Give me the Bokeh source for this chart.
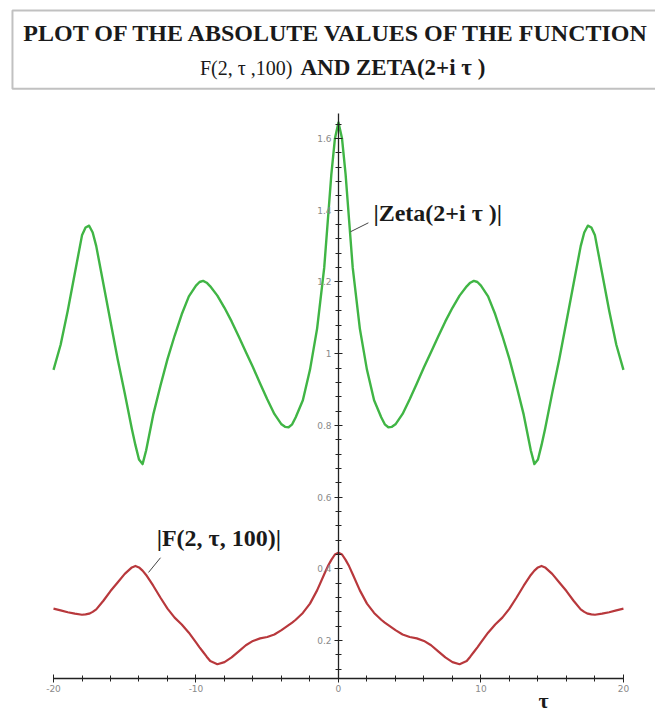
from bokeh.plotting import figure
from bokeh.models import LinearAxis, FixedTicker, Label, BoxAnnotation, Range1d, ColumnDataSource
from bokeh.embed import file_html
from bokeh.resources import INLINE

# ---------------- data ----------------
tau = [-20, -19.5, -19, -18.5, -18, -17.75, -17.5, -17.25, -17, -16.5, -16, -15.5, -15,
       -14.5, -14.25, -14, -13.75, -13.5, -13, -12.5, -12, -11.5, -11, -10.5, -10,
       -9.75, -9.5, -9.25, -9, -8.5, -8, -7.5, -7, -6.5, -6, -5.5, -5, -4.5, -4,
       -3.75, -3.5, -3.25, -3, -2.5, -2, -1.5, -1, -0.75, -0.5, -0.25, 0,
       0.25, 0.5, 0.75, 1, 1.5, 2, 2.5, 3, 3.25, 3.5, 3.75, 4, 4.5, 5, 5.5, 6, 6.5,
       7, 7.5, 8, 8.5, 9, 9.25, 9.5, 9.75, 10, 10.5, 11, 11.5, 12, 12.5, 13, 13.5,
       13.75, 14, 14.25, 14.5, 15, 15.5, 16, 16.5, 17, 17.25, 17.5, 17.75, 18, 18.5,
       19, 19.5, 20]

zeta_abs = [0.955, 1.025, 1.12, 1.225, 1.33, 1.352, 1.357, 1.338, 1.30, 1.195, 1.09,
            0.985, 0.89, 0.79, 0.745, 0.705, 0.692, 0.73, 0.83, 0.91, 0.985, 1.05,
            1.11, 1.16, 1.19, 1.200, 1.203, 1.198, 1.188, 1.162, 1.128, 1.09, 1.048,
            1.005, 0.962, 0.917, 0.873, 0.832, 0.803, 0.796, 0.795, 0.803, 0.823, 0.87,
            0.955, 1.07, 1.24, 1.37, 1.50, 1.60, 1.645,
            1.60, 1.50, 1.37, 1.24, 1.07, 0.955, 0.87, 0.823, 0.803, 0.795, 0.796,
            0.803, 0.832, 0.873, 0.917, 0.962, 1.005, 1.048, 1.09, 1.128, 1.162, 1.188,
            1.198, 1.203, 1.200, 1.19, 1.16, 1.11, 1.05, 0.985, 0.91, 0.83, 0.73, 0.692,
            0.705, 0.745, 0.79, 0.89, 0.985, 1.09, 1.195, 1.30, 1.338, 1.357, 1.352,
            1.33, 1.225, 1.12, 1.025, 0.955]

f_abs = [0.289, 0.284, 0.279, 0.275, 0.272, 0.273, 0.275, 0.280, 0.287, 0.311, 0.338,
         0.362, 0.386, 0.404, 0.408, 0.404, 0.395, 0.383, 0.353, 0.320, 0.289, 0.264,
         0.245, 0.222, 0.195, 0.181, 0.168, 0.155, 0.143, 0.134, 0.140, 0.153, 0.170,
         0.187, 0.199, 0.206, 0.210, 0.217, 0.229, 0.236, 0.243, 0.250, 0.258, 0.277,
         0.303, 0.340, 0.385, 0.407, 0.425, 0.440, 0.445,
         0.440, 0.425, 0.407, 0.385, 0.340, 0.303, 0.277, 0.258, 0.250, 0.243, 0.236,
         0.229, 0.217, 0.210, 0.206, 0.199, 0.187, 0.170, 0.153, 0.140, 0.134, 0.143,
         0.155, 0.168, 0.181, 0.195, 0.222, 0.245, 0.264, 0.289, 0.320, 0.353, 0.383,
         0.395, 0.404, 0.408, 0.404, 0.386, 0.362, 0.338, 0.311, 0.287, 0.280, 0.275,
         0.273, 0.272, 0.275, 0.279, 0.284, 0.289]

x_major = [-20, -10, 0, 10, 20]
x_minor = [-18, -16, -14, -12, -8, -6, -4, -2, 2, 4, 6, 8, 12, 14, 16, 18]
x_labels = ["-20", "-10", "0", "10", "20"]

y_major = [0.2, 0.4, 0.6, 0.8, 1.0, 1.2, 1.4, 1.6]
y_minor = [0.12, 0.16, 0.24, 0.28, 0.32, 0.36, 0.44, 0.48, 0.52, 0.56, 0.64, 0.68,
           0.72, 0.76, 0.84, 0.88, 0.92, 0.96, 1.04, 1.08, 1.12, 1.16, 1.24, 1.28,
           1.32, 1.36, 1.44, 1.48, 1.52, 1.56, 1.64]
y_labels = ["0.2", "0.4", "0.6", "0.8", "1", "1.2", "1.4", "1.6"]

title_line1 = "PLOT OF THE ABSOLUTE VALUES OF THE FUNCTION"
title_line2a = "F(2, \u03c4 ,100)"
title_line2b = "AND ZETA(2+i \u03c4 )"
zeta_label = "|Zeta(2+i \u03c4 )|"
f_label = "|F(2, \u03c4, 100)|"
x_title = "\u03c4"

SERIF = "Liberation Serif"

# ---------------- figure ----------------
p = figure(width=655, height=715, output_backend="svg", toolbar_location=None,
           x_range=Range1d(-23.72, 22.25), y_range=Range1d(-0.009, 1.985),
           x_axis_location=None, y_axis_location=None, min_border=0)
p.outline_line_color = None
p.background_fill_color = "white"
p.border_fill_color = "white"
p.xgrid.visible = False
p.ygrid.visible = False

src = ColumnDataSource(dict(tau=tau, zeta=zeta_abs, f=f_abs))
p.line("tau", "zeta", source=src, line_color="#40b545", line_width=2.4, line_join="round")
p.line("tau", "f", source=src, line_color="#b8383c", line_width=2.2, line_join="round")

# axes crossing inside the plot
xaxis = LinearAxis(fixed_location=0.095, bounds=(-20, 20),
                   ticker=FixedTicker(ticks=x_major, minor_ticks=x_minor),
                   major_label_overrides={v: s for v, s in zip(x_major, x_labels)})
yaxis = LinearAxis(fixed_location=0, bounds=(0.095, 1.67),
                   ticker=FixedTicker(ticks=y_major, minor_ticks=y_minor),
                   major_label_overrides={v: s for v, s in zip(y_major, y_labels)})
for ax in (xaxis, yaxis):
    ax.axis_line_color = "#222222"
    ax.axis_line_width = 1.3
    ax.major_tick_line_color = "#222222"
    ax.minor_tick_line_color = "#222222"
    ax.major_tick_in = 4
    ax.major_tick_out = 4
    ax.minor_tick_in = 3
    ax.minor_tick_out = 3
    ax.major_label_text_color = "#8a8a8a"
    ax.major_label_text_font = "DejaVu Sans"
    ax.major_label_text_font_size = "9px"
    ax.major_label_standoff = 3
p.add_layout(xaxis, "below")
p.add_layout(yaxis, "left")

# title box
p.add_layout(BoxAnnotation(left=-22.88, right=30, top=1.957, bottom=1.739,
                           fill_alpha=0, line_color="#333333", line_width=2))
p.add_layout(Label(x=-0.07, y=1.895, text=title_line1, text_font=SERIF, text_font_style="bold",
                   text_font_size="24px", text_align="center", text_baseline="middle",
                   text_color="#1a1a1a"))
p.add_layout(Label(x=-3.23, y=1.798, text=title_line2a, text_font=SERIF,
                   text_font_size="20px", text_align="right", text_baseline="middle",
                   text_color="#1a1a1a"))
p.add_layout(Label(x=-2.67, y=1.798, text=title_line2b, text_font=SERIF, text_font_style="bold",
                   text_font_size="23px", text_align="left", text_baseline="middle",
                   text_color="#1a1a1a"))

# curve labels with leader lines
p.line([0.84, 2.1], [1.340, 1.365], line_color="#444444", line_width=1)
p.add_layout(Label(x=2.45, y=1.392, text=zeta_label, text_font=SERIF, text_font_style="bold",
                   text_font_size="24px", text_align="left", text_baseline="middle",
                   text_color="#1a1a1a"))
p.line([-13.33, -12.49], [0.39, 0.431], line_color="#444444", line_width=1)
p.add_layout(Label(x=-8.4, y=0.487, text=f_label, text_font=SERIF, text_font_style="bold",
                   text_font_size="24px", text_align="center", text_baseline="middle",
                   text_color="#1a1a1a"))
p.add_layout(Label(x=14.4, y=0.033, text=x_title, text_font=SERIF, text_font_style="bold",
                   text_font_size="22px", text_align="center", text_baseline="middle",
                   text_color="#1a1a1a"))

open("out.html", "w").write(file_html(p, INLINE))
